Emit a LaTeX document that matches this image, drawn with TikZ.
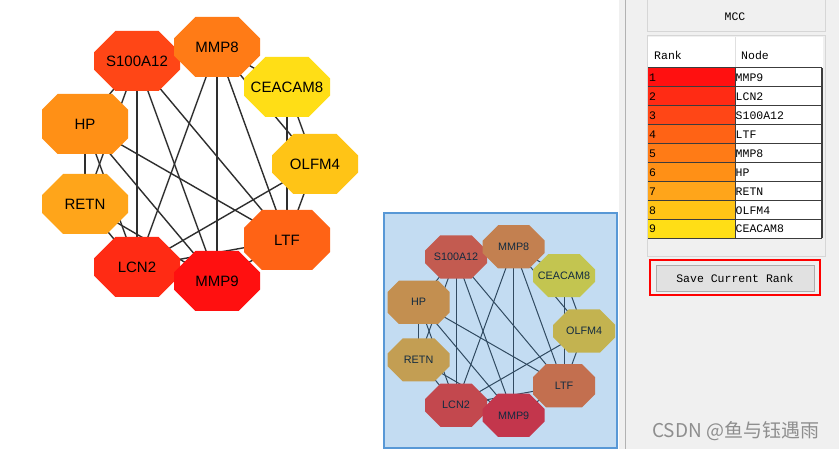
\documentclass[tikz,border=0pt]{standalone}
\usepackage{fontspec}
\setmainfont{Liberation Sans}
\newfontfamily\tabfont{Liberation Mono}
\newfontfamily\cjkfont{Noto Sans CJK SC}
\usetikzlibrary{shapes.misc}

% rank colours, 1 = highest MCC score
\definecolor{rk1}{HTML}{FF1010}
\definecolor{rk2}{HTML}{FF2B14}
\definecolor{rk3}{HTML}{FF4616}
\definecolor{rk4}{HTML}{FF6315}
\definecolor{rk5}{HTML}{FF7B16}
\definecolor{rk6}{HTML}{FF9016}
\definecolor{rk7}{HTML}{FFA51A}
\definecolor{rk8}{HTML}{FFC416}
\definecolor{rk9}{HTML}{FFDE16}
\definecolor{panelbg}{HTML}{F0F0F0}
\definecolor{framegray}{HTML}{D6D6D6}
\definecolor{gridline}{HTML}{3C3C3C}
\definecolor{selblue}{RGB}{58,142,215}
\definecolor{selborder}{RGB}{88,152,214}
\definecolor{btnfill}{HTML}{E1E1E1}
\definecolor{btnborder}{HTML}{ADADAD}
\definecolor{wmgray}{HTML}{8E8E8E}

\pgfdeclarelayer{bg}
\pgfdeclarelayer{edges}
\pgfdeclarelayer{fg}
\pgfsetlayers{bg,edges,main,fg}

\begin{document}
\begin{tikzpicture}[x=1pt,y=-1pt,
  gene/.style={chamfered rectangle,
    chamfered rectangle xsep=21.5pt, chamfered rectangle ysep=16pt,
    minimum width=86pt, minimum height=60pt, inner sep=0pt,
    fill=#1, font=\fontsize{15}{15}\selectfont},
  link/.style={draw=black!82, line width=1.4pt},
  tab/.style={font=\tabfont\fontsize{11.5}{12}\selectfont, inner sep=0pt},
]
\useasboundingbox (0,0) rectangle (839,449);
\begin{pgfonlayer}{bg}
\fill[white] (0,0) rectangle (839,449);
\end{pgfonlayer}

% ---------------- network ----------------
\foreach \n/\x/\y/\c/\t in {
  s100/137/61/rk3/S100A12, mmp8/217/47/rk5/MMP8, cea/287/87/rk9/CEACAM8,
  hp/85/124/rk6/HP, olf/315/164/rk8/OLFM4, retn/85/204/rk7/RETN,
  ltf/287/240/rk4/LTF, lcn/137/267/rk2/LCN2, mmp9/217/281/rk1/MMP9}
  \node[gene=\c] (\n) at (\x,\y) {\t};

% ---------------- overview copy ----------------
\begin{scope}[shift={(357.4,213)}, scale=0.72, transform shape]
\foreach \n/\x/\y/\c/\t in {
  s100/137/61/rk3/S100A12, mmp8/217/47/rk5/MMP8, cea/287/87/rk9/CEACAM8,
  hp/85/124/rk6/HP, olf/315/164/rk8/OLFM4, retn/85/204/rk7/RETN,
  ltf/287/240/rk4/LTF, lcn/137/267/rk2/LCN2, mmp9/217/281/rk1/MMP9}
  \node[gene=\c] (i\n) at (\x,\y) {\t};
\end{scope}

\begin{pgfonlayer}{edges}
\foreach \a/\b in {s100/mmp8, s100/hp, s100/retn, s100/lcn, s100/mmp9, s100/ltf,
  mmp8/cea, mmp8/olf, mmp8/lcn, mmp8/mmp9, mmp8/ltf,
  cea/olf, cea/ltf, olf/ltf, olf/lcn,
  hp/retn, hp/lcn, hp/mmp9, hp/ltf,
  retn/lcn, retn/mmp9, lcn/mmp9, lcn/ltf, mmp9/ltf} {
  \draw[link] (\a.center) -- (\b.center);
  \draw[link, line width=1pt] (i\a.center) -- (i\b.center);
}
\end{pgfonlayer}

\begin{pgfonlayer}{fg}
\fill[selblue, fill opacity=0.3] (384,213) rectangle (617,448);
\draw[selborder, line width=1.6pt] (384,213) rectangle (617,448);
\end{pgfonlayer}

% ---------------- side panel ----------------
\fill[panelbg] (619,0) rectangle (839,449);
\draw[black!30, line width=1pt] (625.5,0) -- (625.5,449);

\draw[framegray, fill=panelbg] (647,-2) rectangle (825,31);
\node[tab] (mcc) at (735,17) {MCC};

\draw[framegray] (647,35) rectangle (825,256);
\fill[white] (648,37) rectangle (823,68);
\draw[black!12] (735,37) -- (735,68);
\node[tab, anchor=west] (hrank) at (654,55) {Rank};
\node[tab, anchor=west] (hnode) at (741,55) {Node};

\foreach \i/\g in {1/MMP9, 2/LCN2, 3/S100A12, 4/LTF, 5/MMP8, 6/HP, 7/RETN, 8/OLFM4, 9/CEACAM8} {
  \pgfmathsetmacro\ya{68+(\i-1)*18.9}
  \pgfmathsetmacro\yb{\ya+18.9}
  \fill[rk\i] (648,\ya) rectangle (735,\yb);
  \fill[white] (735,\ya) rectangle (822,\yb);
  \node[tab, anchor=west] (r\i) at (649,\ya+10) {\i};
  \node[tab, anchor=west] (g\i) at (735.5,\ya+10) {\g};
}
\foreach \i in {0,...,9}
  \draw[gridline, line width=1pt] (648,68+\i*18.9) -- (822,68+\i*18.9);
\draw[gridline, line width=1pt] (735,68) -- (735,238.1);
\draw[gridline, line width=1.2pt] (822,68) -- (822,238.1);

\node[draw=btnborder, fill=btnfill, minimum width=158pt, minimum height=26pt,
  tab] (save) at (735,278) {Save Current Rank};
\node[draw=red, line width=2pt, minimum width=170pt, minimum height=35pt,
  inner sep=0pt] (mark) at (735,277.3) {};

\node[anchor=west, inner sep=0pt, text=wmgray,
  font=\cjkfont\fontsize{19}{19}\selectfont] (wm) at (652,431) {CSDN @鱼与钰遇雨};
\end{tikzpicture}
\end{document}
